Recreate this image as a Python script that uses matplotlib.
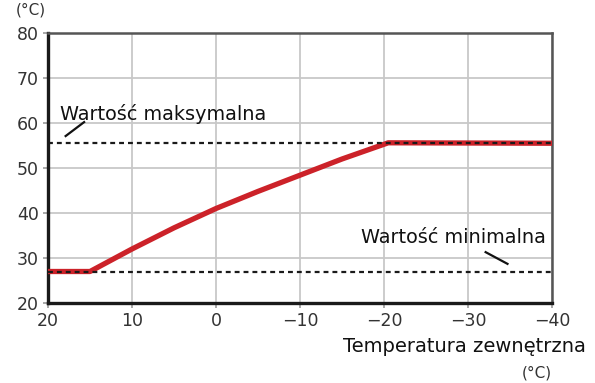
import matplotlib.pyplot as plt

plt.rcParams["font.family"] = ["DejaVu Sans"]

# heating curve: outdoor temp -> supply temp
outdoor = [20, 15, 10, 5, 0, -5, -10, -15, -20.5, -40]
supply = [27, 27, 32, 36.7, 41, 44.8, 48.4, 52, 55.6, 55.5]
max_value = 55.6
min_value = 27

x_ticks = [20, 10, 0, -10, -20, -30, -40]
x_labels = ["20", "10", "0", "\u221210", "\u221220", "\u221230", "\u221240"]
y_ticks = [20, 30, 40, 50, 60, 70, 80]

fig = plt.figure(figsize=(5.95, 3.83), dpi=100)
ax = fig.add_axes([48 / 595, 1 - 303 / 383, 504 / 595, 270 / 383])

ax.set_xlim(20, -40)
ax.set_ylim(20, 80)
ax.set_xticks(x_ticks)
ax.set_xticklabels(x_labels)
ax.set_yticks(y_ticks)
ax.grid(True, color="#c8c8c8", lw=1.3)
ax.set_axisbelow(True)

ax.plot(outdoor, supply, color="#cc2229", lw=3.8, solid_capstyle="butt", zorder=3)
ax.axhline(max_value, color="#1a1a1a", lw=1.6, ls=(0, (2.2, 1.8)), zorder=4)
ax.axhline(min_value, color="#1a1a1a", lw=1.6, ls=(0, (2.2, 1.8)), zorder=4)

for side in ["left", "bottom"]:
    ax.spines[side].set_color("#1a1a1a")
    ax.spines[side].set_linewidth(2.4)
for side in ["top", "right"]:
    ax.spines[side].set_color("#555555")
    ax.spines[side].set_linewidth(1.8)

ax.tick_params(length=3.6, width=1.2, color="#999999", labelsize=12.5,
               labelcolor="#333333", pad=3)

# labels with leader lines
ax.text(18.6, 62, "Warto\u015b\u0107 maksymalna", fontsize=13.9, color="#111111",
        ha="left", va="center")
ax.plot([15.7, 17.9], [60.2, 57.1], color="#111111", lw=1.6)
ax.text(-39.3, 34.5, "Warto\u015b\u0107 minimalna", fontsize=13.9, color="#111111",
        ha="right", va="center")
ax.plot([-32.1, -34.7], [31.3, 28.7], color="#111111", lw=1.6)

fig.text(16 / 595, 1 - 10 / 383, "(\u00b0C)", fontsize=11, color="#333333",
         ha="left", va="center")
fig.text(586 / 595, 1 - 347 / 383, "Temperatura zewn\u0119trzna", fontsize=14,
         color="#111111", ha="right", va="center")
fig.text(552 / 595, 1 - 373 / 383, "(\u00b0C)", fontsize=11, color="#333333",
         ha="right", va="center")

fig.savefig("out.png", dpi=100)
